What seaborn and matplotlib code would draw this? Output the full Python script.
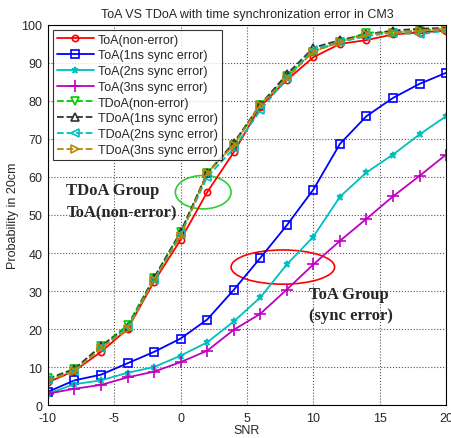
import numpy as np
import pandas as pd
import matplotlib
matplotlib.use("Agg")
import matplotlib.pyplot as plt
import seaborn as sns
from matplotlib.patches import Ellipse

snr = [-10, -8, -6, -4, -2, 0, 2, 4, 6, 8, 10, 12, 14, 16, 18, 20]
toa_non = [6, 9, 14, 20, 32.5, 43.5, 56, 66.5, 78.5, 85.5, 91.5, 95, 96, 97.5, 98, 98.5]
toa_1ns = [3.5, 6.5, 8, 11, 14, 17.5, 22.5, 30.3, 38.7, 47.3, 56.7, 68.7, 76, 80.8, 84.5, 87.4]
toa_2ns = [3, 5.5, 6.5, 8.5, 10, 13, 16.5, 22, 28.3, 37, 44.3, 54.8, 61.2, 65.9, 71.2, 76]
toa_3ns = [3, 4.3, 5.3, 7.3, 8.8, 11.3, 14.3, 19.8, 24, 30.4, 37, 43.2, 49, 54.9, 60.3, 65.9]
tdoa_non = [7, 9.5, 15.5, 21, 33.5, 45.5, 61, 68.5, 79, 86.5, 93, 95.5, 98, 98, 98.5, 99]
tdoa_1ns = [6.8, 9.5, 15.5, 20.5, 33.5, 45.5, 61, 69, 79, 87, 94, 96, 97.5, 98.5, 99, 99.2]
tdoa_2ns = [6.5, 9, 15, 20.5, 33, 45, 60, 67.5, 77.5, 86, 93.5, 95.5, 97, 98, 97.5, 98.5]
tdoa_3ns = [6.5, 9, 15, 20, 33, 44.5, 61, 68.5, 79, 86, 93, 95.5, 97.5, 98, 98.5, 99]

series = [
    ("ToA(non-error)", toa_non, "red", "o", "-", 4.5, True),
    ("ToA(1ns sync error)", toa_1ns, "blue", "s", "-", 6, True),
    ("ToA(2ns sync error)", toa_2ns, "#00bfbf", "*", "-", 5, False),
    ("ToA(3ns sync error)", toa_3ns, "#bf00bf", "+", "-", 9, False),
    ("TDoA(non-error)", tdoa_non, "#00cc00", "v", "--", 6, True),
    ("TDoA(1ns sync error)", tdoa_1ns, "#333333", "^", "--", 6, True),
    ("TDoA(2ns sync error)", tdoa_2ns, "#00bfbf", "<", "--", 6, True),
    ("TDoA(3ns sync error)", tdoa_3ns, "#b8860b", ">", "--", 6, True),
]

sns.set_theme(style="white")
plt.rcParams['font.family'] = ['Liberation Sans', 'DejaVu Sans']
plt.rcParams['axes.unicode_minus'] = False

fig = plt.figure(figsize=(4.52, 4.39), dpi=100)
ax = fig.add_axes([0.106, 0.075, 0.881, 0.866])

for name, vals, color, marker, ls, ms, hollow in series:
    df = pd.DataFrame({"SNR": snr, "P": vals})
    kw = dict(markerfacecolor="none") if hollow else {}
    sns.lineplot(data=df, x="SNR", y="P", ax=ax, color=color, marker=marker,
                 linestyle=ls, linewidth=1.3, markersize=ms, markeredgecolor=color,
                 markeredgewidth=1.2, label=name, **kw)

ax.set_xlim(-10, 20)
ax.set_ylim(0, 100)
ax.set_xticks([-10, -5, 0, 5, 10, 15, 20])
ax.set_yticks(range(0, 101, 10))
ax.grid(True, linestyle=":", color="#555555", linewidth=0.8)
for s in ax.spines.values():
    s.set_color("black")
    s.set_linewidth(0.8)
ax.tick_params(axis="both", labelsize=9, direction="in", length=3, color="black")
ax.tick_params(axis="x", pad=5)
ax.tick_params(axis="y", pad=4)
ax.set_xlabel("SNR", fontsize=9, labelpad=0)
ax.set_ylabel("Probability in 20cm", fontsize=9, labelpad=2)
ax.set_title("ToA VS TDoA with time synchronization error in CM3", fontsize=9, pad=6)

leg = ax.legend(loc="upper left", fontsize=9, frameon=True, fancybox=False,
                handlelength=3, handletextpad=0.3, borderpad=0.3, labelspacing=0.3,
                borderaxespad=0.4)
leg.get_frame().set_edgecolor("black")
leg.get_frame().set_linewidth(0.8)

ax.add_patch(Ellipse((1.7, 56), 4.2, 8.8, fill=False, edgecolor="#33cc33", linewidth=1.2))
ax.add_patch(Ellipse((7.7, 36.3), 7.8, 9.0, fill=False, edgecolor="red", linewidth=1.2))

serif = ["Liberation Serif", "DejaVu Serif"]
ax.text(-8.6, 56.5, "TDoA Group", fontsize=12, fontweight="bold", family=serif, va="center", ha="left")
ax.text(-8.6, 50.8, "ToA(non-error)", fontsize=12, fontweight="bold", family=serif, va="center", ha="left")
ax.text(9.7, 29.2, "ToA Group", fontsize=12, fontweight="bold", family=serif, va="center", ha="left")
ax.text(9.7, 23.8, "(sync error)", fontsize=12, fontweight="bold", family=serif, va="center", ha="left")

fig.savefig("out.png", dpi=100)
